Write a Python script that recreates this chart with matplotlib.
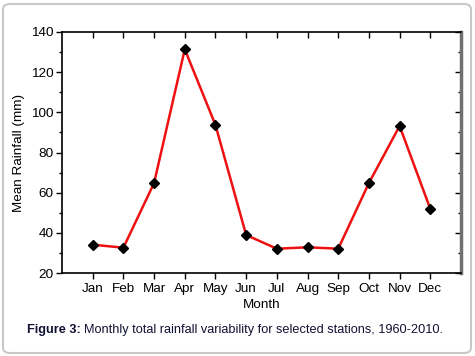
import matplotlib
matplotlib.use("Agg")
import matplotlib.pyplot as plt
from matplotlib.patches import FancyBboxPatch
from matplotlib.ticker import MultipleLocator

months = ["Jan", "Feb", "Mar", "Apr", "May", "Jun", "Jul", "Aug", "Sep", "Oct", "Nov", "Dec"]
rainfall = [34.1, 32.6, 64.8, 131.4, 93.7, 38.9, 32.1, 32.8, 32.1, 64.8, 93.2, 51.9]

plt.rcParams['font.family'] = ['Liberation Sans', 'DejaVu Sans']

W, H = 475, 356
fig = plt.figure(figsize=(W / 100, H / 100), dpi=100)
fig.patch.set_facecolor('white')

# rounded border
border = FancyBboxPatch((3 / W, 3 / H), (W - 7) / W, (H - 7) / H,
                        boxstyle="round,pad=0,rounding_size=0.015",
                        transform=fig.transFigure, facecolor='none',
                        edgecolor='#c8c8c8', linewidth=1.5, zorder=0)
fig.patches.append(border)

ax = fig.add_axes([62 / W, 1 - 273 / H, (461 - 62) / W, (273 - 32) / H])
x = list(range(1, len(months) + 1))
ax.plot(x, rainfall, color='#ee1111', linewidth=1.8, zorder=2)
ax.plot(x, rainfall, linestyle='none', marker='D', markersize=5.5,
        color='black', zorder=3)

ax.set_xlim(0, 13)
ax.set_ylim(20, 140)
ax.set_xticks(x)
ax.set_xticklabels(months)
ax.yaxis.set_major_locator(MultipleLocator(20))
ax.yaxis.set_minor_locator(MultipleLocator(10))

ax.tick_params(axis='x', which='major', direction='out', length=4, width=1,
               top=True, labelsize=9.7, pad=3)
ax.tick_params(axis='y', which='major', direction='out', length=4, width=1,
               labelsize=9.7, pad=2)
ax.tick_params(axis='y', which='minor', direction='out', length=2.5, width=1)
ax.tick_params(axis='y', which='both', right=True)

for s in ['left', 'bottom', 'top']:
    ax.spines[s].set_linewidth(1.2)
    ax.spines[s].set_color('black')
ax.spines['right'].set_linewidth(2.5)
ax.spines['right'].set_color('#707070')

# top and right ticks inward
for t in ax.xaxis.get_major_ticks():
    t.tick2line.set_marker(matplotlib.lines.TICKDOWN)
for t in ax.yaxis.get_major_ticks() + ax.yaxis.get_minor_ticks():
    t.tick2line.set_marker(matplotlib.lines.TICKLEFT)

ax.set_xlabel("Month", fontsize=9.7, labelpad=3)
ax.set_ylabel("Mean Rainfall (mm)", fontsize=9.7, labelpad=4)

cap_color = '#111133'
t1 = fig.text(27 / W, 1 - 330 / H, "Figure 3:", fontsize=9.2, fontweight='bold',
              color=cap_color, va='center', ha='left')
fig.canvas.draw()
bb = t1.get_window_extent(renderer=fig.canvas.get_renderer())
fig.text((bb.x1 + 3) / W, 1 - 330 / H,
         "Monthly total rainfall variability for selected stations, 1960-2010.",
         fontsize=9.2, color=cap_color, va='center', ha='left')

fig.savefig("out.png", dpi=100)
